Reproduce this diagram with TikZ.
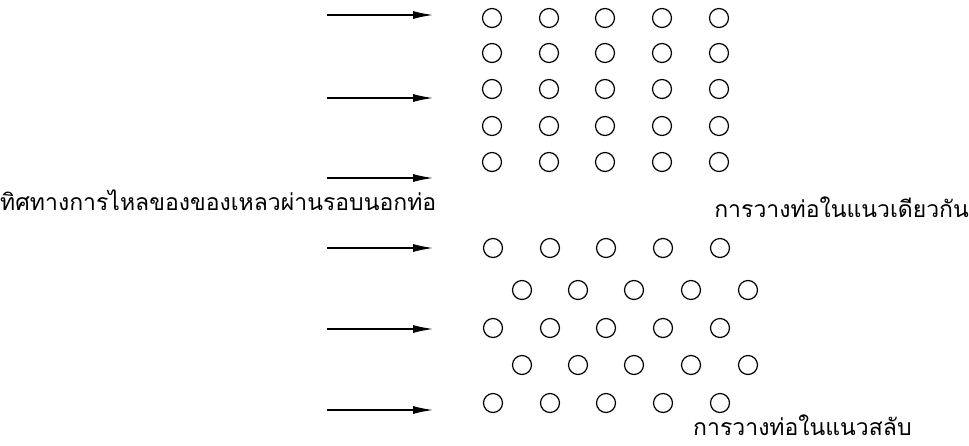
\documentclass[tikz,border=0pt]{standalone}
\usepackage{fontspec}
\newfontfamily\thaifont[Script=Thai]{Loma}
\usetikzlibrary{arrows.meta}
\begin{document}
\begin{tikzpicture}[x=1pt,y=-1pt,
  tube/.style={draw,line width=1.2pt,circle,minimum size=19pt,inner sep=0pt},
  flow/.style={line width=1.2pt,-{Latex[length=20pt,width=8pt]}},
  lbl/.style={font=\thaifont\fontsize{23}{26}\selectfont,inner sep=0pt}]
\useasboundingbox (0,0) rectangle (969,445);
% inline arrangement
\foreach \r/\y in {1/18,2/53,3/89,4/126,5/162}{
  \foreach \c/\x in {1/492,2/549,3/605,4/662,5/719}{
    \node[tube] (a\r\c) at (\x,\y) {};
  }
}
% staggered arrangement
\foreach \r/\y in {1/248,3/328,5/403}{
  \foreach \c/\x in {1/493,2/550,3/606,4/663,5/720}{
    \node[tube] (b\r\c) at (\x,\y) {};
  }
}
\foreach \r/\y in {2/290,4/365}{
  \foreach \c/\x in {1/522,2/578,3/634,4/691,5/748}{
    \node[tube] (b\r\c) at (\x,\y) {};
  }
}
% arrows
\foreach \i/\y in {1/15,2/98,3/178,4/248,5/329,6/410}{
  \coordinate (s\i) at (327,\y);
  \coordinate (e\i) at (433,\y);
  \draw[flow] (s\i) -- (e\i);
}
% labels
\node[lbl,anchor=west] (flowtxt) at (0,200) {ทิศทางการไหลของของเหลวผ่านรอบนอกท่อ};
\node[lbl,anchor=east] (inl) at (969,207) {การวางท่อในแนวเดียวกัน};
\node[lbl,anchor=west] (stg) at (693,425) {การวางท่อในแนวสลับ};
\end{tikzpicture}
\end{document}
